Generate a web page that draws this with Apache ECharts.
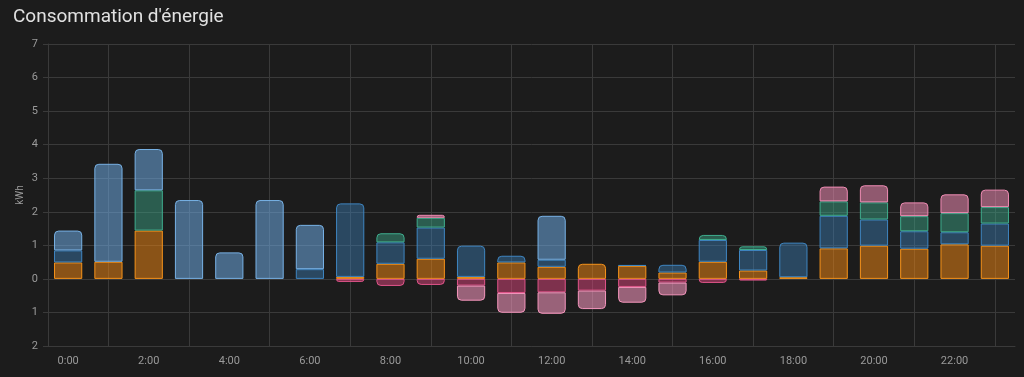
<!DOCTYPE html>
<html>
<head>
<meta charset="utf-8">
<script src="https://cdn.jsdelivr.net/npm/echarts@6/dist/echarts.min.js"></script>
<style>
  html, body { margin: 0; background: #1c1c1c; }
  #chart { width: 1024px; height: 377px; }
</style>
</head>
<body>
<div id="chart"></div>
<script>
const hours = ['0:00', '1:00', '2:00', '3:00', '4:00', '5:00', '6:00', '7:00', '8:00', '9:00', '10:00', '11:00',
  '12:00', '13:00', '14:00', '15:00', '16:00', '17:00', '18:00', '19:00', '20:00', '21:00', '22:00', '23:00'];

// kWh par heure
const solaire = [0.49, 0.51, 1.44, 0, 0, 0, 0, 0.06, 0.45, 0.60, 0.06, 0.49, 0.36, 0.45, 0.39, 0.19, 0.51, 0.25, 0.05, 0.91, 0.99, 0.90, 1.03, 0.99];
const reseauCreuses = [0.36, 0, 0, 0, 0, 0, 0.29, 2.19, 0.64, 0.93, 0.93, 0.20, 0.21, 0, 0.02, 0.23, 0.65, 0.61, 1.03, 0.97, 0.78, 0.52, 0.36, 0.66];
const batterie = [0, 0, 1.20, 0, 0, 0, 0, 0, 0.27, 0.29, 0, 0, 0, 0, 0, 0, 0.15, 0.11, 0, 0.43, 0.51, 0.45, 0.57, 0.49];
const reseauPleines = [0.59, 2.92, 1.23, 2.35, 0.79, 2.35, 1.32, 0, 0, 0, 0, 0, 1.31, 0, 0, 0, 0, 0, 0, 0, 0, 0, 0, 0];
const batterie2 = [0, 0, 0, 0, 0, 0, 0, 0, 0, 0.09, 0, 0, 0, 0, 0, 0, 0, 0, 0, 0.44, 0.51, 0.41, 0.56, 0.52];
const versBatterie = [0, 0, 0, 0, 0, 0, 0, -0.09, -0.21, -0.18, -0.20, -0.42, -0.40, -0.35, -0.24, -0.11, -0.12, -0.05, 0, 0, 0, 0, 0, 0];
const versReseau = [0, 0, 0, 0, 0, 0, 0, 0, 0, 0, -0.45, -0.59, -0.64, -0.55, -0.47, -0.38, 0, 0, 0, 0, 0, 0, 0, 0];

const yTicks = [-2, -1, 0, 1, 2, 3, 4, 5, 6, 7];

const seriesDefs = [
  { name: 'Solaire', data: solaire, color: '#f7931a', fill: 'rgba(230,130,20,0.55)' },
  { name: 'Réseau heures creuses', data: reseauCreuses, color: '#3f86c2', fill: 'rgba(63,134,194,0.42)' },
  { name: 'Batterie', data: batterie, color: '#3fae8e', fill: 'rgba(63,174,142,0.45)' },
  { name: 'Réseau heures pleines', data: reseauPleines, color: '#78b2e6', fill: 'rgba(110,170,225,0.55)' },
  { name: 'Batterie 2', data: batterie2, color: '#f08cb4', fill: 'rgba(240,140,180,0.55)' },
  { name: 'Vers batterie', data: versBatterie, color: '#e0558a', fill: 'rgba(224,70,125,0.5)' },
  { name: 'Vers réseau', data: versReseau, color: '#f596bd', fill: 'rgba(245,150,189,0.58)' }
];

// rounded corners on the outermost segment of each bar
const topIdx = hours.map((h, i) => {
  let t = -1;
  seriesDefs.forEach((s, k) => { if (s.data[i] > 0) t = k; });
  return t;
});
const botIdx = hours.map((h, i) => {
  let b = -1;
  seriesDefs.forEach((s, k) => { if (s.data[i] < 0) b = k; });
  return b;
});

const series = seriesDefs.map((s, k) => ({
  name: s.name,
  type: 'bar',
  stack: 'energie',
  barCategoryGap: '30%',
  itemStyle: { color: s.fill, borderColor: s.color, borderWidth: 1 },
  data: s.data.map((v, i) => {
    if (!v) return '-';
    let r = 0;
    if (v > 0 && topIdx[i] === k) r = [4, 4, 0, 0];
    if (v < 0 && botIdx[i] === k) r = [0, 0, 4, 4];
    return { value: v, itemStyle: { borderRadius: r } };
  })
}));

const chart = echarts.init(document.getElementById('chart'));
const gridColor = '#3a3a3a';
const textColor = '#9a9a9a';

chart.setOption({
  backgroundColor: '#1c1c1c',
  animation: false,
  textStyle: { fontFamily: 'Roboto' },
  title: {
    text: "Consommation d'énergie",
    left: 8,
    top: 3,
    textStyle: { color: '#e1e1e1', fontSize: 19, fontWeight: 'normal', fontFamily: 'Roboto' }
  },
  // unit label of the y axis, placed by hand
  graphic: [{
    type: 'text',
    x: 20,
    y: 195,
    rotation: Math.PI / 2,
    style: { text: 'kWh', fill: textColor, fontSize: 10, fontFamily: 'Roboto', align: 'center', verticalAlign: 'middle' }
  }],
  grid: { left: 48, right: 9, top: 44, bottom: 31, containLabel: false },
  xAxis: {
    type: 'category',
    data: hours,
    axisLine: { onZero: false, lineStyle: { color: gridColor } },
    axisTick: {
      alignWithLabel: true,
      interval: (i) => i % 2 === 1,
      length: 7,
      lineStyle: { color: gridColor }
    },
    splitLine: {
      show: true,
      alignWithLabel: true,
      interval: (i) => i % 2 === 1,
      lineStyle: { color: gridColor }
    },
    axisLabel: { interval: 1, color: textColor, fontSize: 11, margin: 10 }
  },
  yAxis: {
    type: 'value',
    min: yTicks[0],
    max: yTicks[yTicks.length - 1],
    interval: 1,
    axisLine: { show: true, lineStyle: { color: gridColor } },
    axisTick: { show: true, length: 5, lineStyle: { color: gridColor } },
    splitLine: { lineStyle: { color: gridColor } },
    axisLabel: { color: textColor, fontSize: 11, margin: 10, formatter: (v) => Math.abs(v) }
  },
  series: series
});
</script>
</body>
</html>
